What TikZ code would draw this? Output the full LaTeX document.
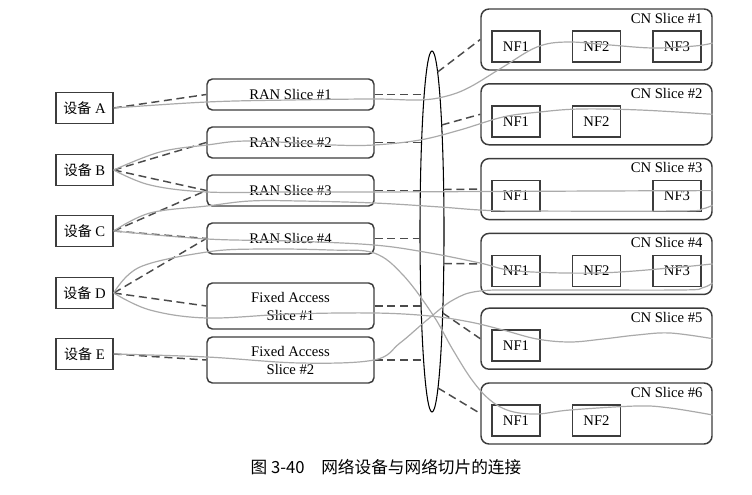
\documentclass[tikz,border=0pt]{standalone}
\usepackage{fontspec}
\setmainfont{Liberation Serif}
\newfontfamily\cjk{Noto Sans CJK SC}
\usepackage{tikz}
\usetikzlibrary{calc,shapes.geometric}
\definecolor{boxgray}{RGB}{60,60,60}
\definecolor{dashgray}{RGB}{75,75,75}
\definecolor{flowgray}{RGB}{170,170,170}

\begin{document}
\begin{tikzpicture}[x={(0.75pt,0pt)},y={(0pt,-0.75pt)},font=\fontsize{11}{13.5}\selectfont,
  dev/.style={draw=boxgray,line width=1.1pt,minimum width=42.75pt,minimum height=23.25pt,inner sep=0pt},
  ranbox/.style={draw=boxgray,line width=1.1pt,rounded corners=4pt,minimum width=125.25pt,minimum height=23.25pt,inner sep=0pt,align=center},
  cnbox/.style={draw=boxgray,line width=1.1pt,rounded corners=6pt,minimum width=173.25pt,minimum height=45.75pt,inner sep=0pt},
  nf/.style={draw=boxgray,line width=1.1pt,minimum width=36pt,minimum height=23.25pt,inner sep=0pt},
  link/.style={draw=dashgray,line width=1.1pt,dash pattern=on 6pt off 3.5pt},
  flow/.style={draw=flowgray,line width=0.9pt,smooth,tension=0.6}]
  \useasboundingbox (0,0) rectangle (752,495);
  % devices
  \foreach \n/\y in {A/108,B/170,C/231,D/293,E/354}
    \node[dev] (dev\n) at (84.5,\y) {{\cjk\fontsize{10.5}{12}\selectfont 设备} \n};
  % access slices
  \foreach \i/\y in {1/94.5,2/142.5,3/190.5,4/238.5}
    \node[ranbox] (ran\i) at (290.5,\y) {RAN Slice \#\i};
  \node[ranbox,minimum height=34.5pt] (fa1) at (290.5,306) {Fixed Access\\Slice \#1};
  \node[ranbox,minimum height=34.5pt] (fa2) at (290.5,360) {Fixed Access\\Slice \#2};
  % transport ring, points on its rim (a=12, b=180.5)
  \node[draw,shape=ellipse,line width=0.8pt,minimum width=18pt,minimum height=270.75pt,inner sep=0pt,outer sep=0pt] (ring) at (432,231.5) {};
  \foreach \k/\dx/\dy in {1/-7.81/-137,2/-10.44/-89,3/-11.69/-41,4/-11.99/7,5/-10.93/74.5,6/-8.43/128.5}
    \coordinate (rw\k) at ($(ring.center)+(\dx,\dy)$);
  \foreach \k/\dx/\dy in {1/5.62/-159.5,2/9.69/-106.5,3/11.67/-42,4/11.81/32,5/10.71/81.5,6/5.98/156.5}
    \coordinate (re\k) at ($(ring.center)+(\dx,\dy)$);
  % core slices with their NFs
  \foreach \i/\nfs in {1/{1,2,3},2/{1,2},3/{1,3},4/{1,2,3},5/{1},6/{1,2}}{
    \pgfmathsetmacro{\cy}{39.5+74.8*(\i-1)}
    \node[cnbox] (cn\i) at (596.5,\cy) {};
    \node[anchor=east,inner sep=0pt] (cnlab\i) at ($(cn\i.north east)+(-10,10)$) {CN Slice \#\i};
    \foreach \j in \nfs{
      \pgfmathsetmacro{\nx}{596.5+80.5*(\j-2)}
      \node[nf] (nf\i\j) at (\nx,\cy+7) {NF\j};
    }
  }
  % dashed links
  \foreach \a/\b in {devA/ran1,devB/ran2,devB/ran3,devC/ran3,devC/ran4,devD/ran4,devD/fa1,devE/fa2}
    \draw[link] (\a.east) -- (\b.west);
  \foreach \b/\k in {ran1/1,ran2/2,ran3/3,ran4/4,fa1/5,fa2/6}
    \draw[link] (\b.east) -- (rw\k);
  \foreach \k in {1,...,6}
    \draw[link] (re\k) -- (cn\k.west);
  % end-to-end paths
  \draw[flow] plot coordinates {(devA.east) (207,102) (290,100) (374,99) (420,100) (447,96) (470,87) (503,67) (537,47) (567,42) (610,45) (653,48) (695,46) ($(cn1.east)+(0,3.5)$)};
  \draw[flow] plot coordinates {(devB.east) (160,152) (207,145) (250,141) (333,145) (374,145) (420,140) (460,130) (503,117) (540,112) (580,109) (640,110) (cn2.east)};
  \draw[flow] plot coordinates {(devB.east) (150,185) (207,192) (290,192) (374,192) (600,191) ($(cn3.east)+(0,1.5)$)};
  \draw[flow] plot coordinates {(devC.east) (150,213) (207,206) (250,201) (300,201) (374,203) (440,207) (480,210) (520,211) (680,211) (702,209) ($(cn3.east)+(0,16)$)};
  \draw[flow] plot coordinates {(devC.east) (207,239) (290,241) (374,245) (430,253) (480,263) (517,271) (597,273) (670,268) (cn4.east)};
  \draw[flow] plot coordinates {(devD.east) (140,267) (207,252) (260,249) (330,250) (374,253) (403,275) (433,315) (453,350) (472,380) (490,400) (510,411) (537,414) (570,410) (637,406) (670,408) ($(cn6.east)+(0,1.5)$)};
  \draw[flow] plot coordinates {(devD.east) (150,310) (207,318) (290,314) (374,313) (430,316) (470,322) (503,330) (537,339) (570,342) (603,339) (637,335) (670,333) (cn5.east)};
  \draw[flow] plot coordinates {(devE.east) (207,357) (300,363) (374,360) (400,343) (427,320) (453,300) (480,291) (537,290) (680,290) (702,288) ($(cn4.east)+(0,19)$)};
  % caption
  \node (cap) at (386,467) {\cjk\fontsize{12.5}{15}\selectfont 图 3-40\quad 网络设备与网络切片的连接};
\end{tikzpicture}
\end{document}
